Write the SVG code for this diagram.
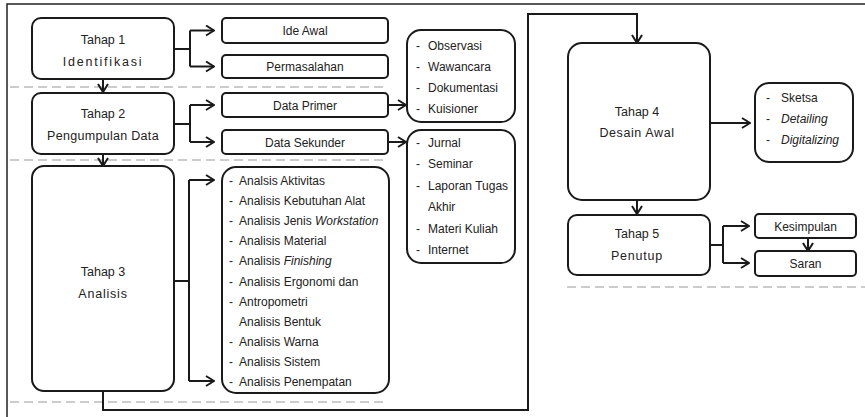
<svg xmlns="http://www.w3.org/2000/svg" width="865" height="417" viewBox="0 0 865 417">
<style>
.box{fill:#fff;stroke:#1a1a1a;stroke-width:2}
.con{fill:none;stroke:#1a1a1a;stroke-width:2}
.dash{fill:none;stroke:#9a9a9a;stroke-width:1.2;stroke-dasharray:9 5}
.frame{fill:none;stroke:#222;stroke-width:1.5}
text{font-family:"Liberation Sans",Arial,sans-serif;fill:#222;font-size:12px}
.t{text-anchor:middle;font-size:12.5px}
.c{text-anchor:middle}
.i{font-style:italic}
</style>
<defs>
<marker id="ah" viewBox="0 0 10 12" refX="9" refY="6" markerWidth="10" markerHeight="12" orient="auto" markerUnits="userSpaceOnUse">
<path d="M1,1 L9,6 L1,11" fill="none" stroke="#1a1a1a" stroke-width="2"/>
</marker>
</defs>
<rect width="865" height="417" fill="#fff"/>
<path class="frame" d="M7,417 V4 H865"/>
<g id="dashes">
<path class="dash" d="M10,87 H385"/>
<path class="dash" d="M10,160 H385"/>
<path class="dash" d="M10,402 H385"/>
<path class="dash" d="M567,287 H865"/>
</g>
<g id="connectors">
<path class="con" d="M174,49 H190 M190,30.5 V66.5"/>
<path class="con" d="M190,30.5 H214" marker-end="url(#ah)"/>
<path class="con" d="M190,66.5 H214" marker-end="url(#ah)"/>
<path class="con" d="M103,79 V92" marker-end="url(#ah)"/>
<path class="con" d="M174,124 H190 M190,105 V142"/>
<path class="con" d="M190,105 H214" marker-end="url(#ah)"/>
<path class="con" d="M190,142 H214" marker-end="url(#ah)"/>
<path class="con" d="M388,105 H406" marker-end="url(#ah)"/>
<path class="con" d="M388,142 H406" marker-end="url(#ah)"/>
<path class="con" d="M103,154 V166" marker-end="url(#ah)"/>
<path class="con" d="M174,281 H189 M189,180 V381"/>
<path class="con" d="M189,180 H214" marker-end="url(#ah)"/>
<path class="con" d="M189,381 H214" marker-end="url(#ah)"/>
<path class="con" d="M103,391 V410 H528 V14 H637 V43" marker-end="url(#ah)"/>
<path class="con" d="M710,123 H750" marker-end="url(#ah)"/>
<path class="con" d="M637,200 V214" marker-end="url(#ah)"/>
<path class="con" d="M710,245 H723 M723,226 V263"/>
<path class="con" d="M723,226 H749" marker-end="url(#ah)"/>
<path class="con" d="M723,263 H749" marker-end="url(#ah)"/>
<path class="con" d="M808,238 V251" marker-end="url(#ah)"/>
</g>
<g id="tahap1">
<rect class="box" x="32" y="18" width="142" height="61" rx="9"/>
<text class="t" x="103" y="44">Tahap 1</text>
<text class="t" x="103" y="66" letter-spacing="1.8">Identifikasi</text>
</g>
<g id="ide-awal">
<rect class="box" x="222" y="18" width="166" height="25" rx="4"/>
<text class="c" x="305" y="35">Ide Awal</text>
</g>
<g id="permasalahan">
<rect class="box" x="222" y="55" width="166" height="23" rx="4"/>
<text class="c" x="305" y="71">Permasalahan</text>
</g>
<g id="tahap2">
<rect class="box" x="32" y="93" width="142" height="61" rx="9"/>
<text class="t" x="103" y="118">Tahap 2</text>
<text class="t" x="103" y="140" letter-spacing="0.3">Pengumpulan Data</text>
</g>
<g id="data-primer">
<rect class="box" x="222" y="93" width="166" height="24" rx="4"/>
<text class="c" x="305" y="109.5">Data Primer</text>
</g>
<g id="data-sekunder">
<rect class="box" x="222" y="130" width="166" height="24" rx="4"/>
<text class="c" x="305" y="146.5">Data Sekunder</text>
</g>
<g id="primer-list">
<rect class="box" x="407" y="30" width="108" height="92" rx="14"/>
<text x="416" y="49.5">-</text><text x="428" y="49.5">Observasi</text>
<text x="416" y="70.5">-</text><text x="428" y="70.5">Wawancara</text>
<text x="416" y="91.5">-</text><text x="428" y="91.5">Dokumentasi</text>
<text x="416" y="112.5">-</text><text x="428" y="112.5">Kuisioner</text>
</g>
<g id="sekunder-list">
<rect class="box" x="407" y="130" width="108" height="133" rx="14"/>
<text x="416" y="146.5">-</text><text x="428" y="146.5">Jurnal</text>
<text x="416" y="168">-</text><text x="428" y="168">Seminar</text>
<text x="416" y="189.5">-</text><text x="428" y="189.5">Laporan Tugas</text>
<text x="428" y="210.5">Akhir</text>
<text x="416" y="232.5">-</text><text x="428" y="232.5">Materi Kuliah</text>
<text x="416" y="253.5">-</text><text x="428" y="253.5">Internet</text>
</g>
<g id="tahap3">
<rect class="box" x="32" y="166" width="142" height="225" rx="12"/>
<text class="t" x="103" y="276">Tahap 3</text>
<text class="t" x="103" y="298" letter-spacing="0.8">Analisis</text>
</g>
<g id="analisis-list">
<rect class="box" x="222" y="167" width="167" height="226" rx="14"/>
<text x="229" y="184.5">-</text><text x="239" y="184.5">Analsis Aktivitas</text>
<text x="229" y="204.5">-</text><text x="239" y="204.5">Analisis Kebutuhan Alat</text>
<text x="229" y="225">-</text><text x="239" y="225">Analisis Jenis <tspan class="i">Workstation</tspan></text>
<text x="229" y="245">-</text><text x="239" y="245">Analisis Material</text>
<text x="229" y="265">-</text><text x="239" y="265">Analisis <tspan class="i">Finishing</tspan></text>
<text x="229" y="285.5">-</text><text x="239" y="285.5">Analisis Ergonomi dan</text>
<text x="229" y="306">-</text><text x="239" y="306">Antropometri</text>
<text x="239" y="326">Analisis Bentuk</text>
<text x="229" y="346">-</text><text x="239" y="346">Analisis Warna</text>
<text x="229" y="366">-</text><text x="239" y="366">Analisis Sistem</text>
<text x="229" y="386">-</text><text x="239" y="386">Analisis Penempatan</text>
</g>
<g id="tahap4">
<rect class="box" x="568" y="43" width="142" height="157" rx="14"/>
<text class="t" x="637" y="116">Tahap 4</text>
<text class="t" x="637" y="137" letter-spacing="0.6">Desain Awal</text>
</g>
<g id="desain-list">
<rect class="box" x="755" y="83" width="98" height="79" rx="14"/>
<text x="766" y="102">-</text><text x="781" y="102">Sketsa</text>
<text x="766" y="123">-</text><text class="i" x="781" y="123">Detailing</text>
<text x="766" y="144">-</text><text class="i" x="781" y="144">Digitalizing</text>
</g>
<g id="tahap5">
<rect class="box" x="568" y="215" width="142" height="60" rx="9"/>
<text class="t" x="637" y="237.5">Tahap 5</text>
<text class="t" x="637" y="260" letter-spacing="0.8">Penutup</text>
</g>
<g id="kesimpulan">
<rect class="box" x="755" y="214" width="101" height="24" rx="4"/>
<text class="c" x="805.5" y="230.5">Kesimpulan</text>
</g>
<g id="saran">
<rect class="box" x="755" y="251" width="101" height="25" rx="4"/>
<text class="c" x="805.5" y="268">Saran</text>
</g>
</svg>
